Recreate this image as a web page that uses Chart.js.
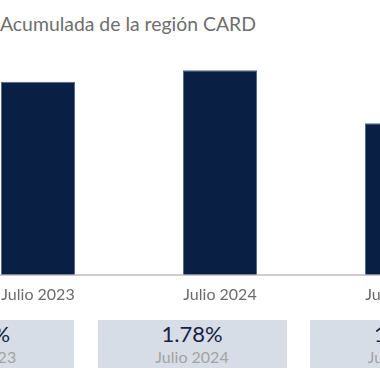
<!DOCTYPE html>
<html>
<head>
<meta charset="utf-8">
<script src="https://cdn.jsdelivr.net/npm/chart.js@4/dist/chart.umd.min.js"></script>
<style>
  html, body { margin:0; padding:0; background:#fff; width:380px; height:380px; overflow:hidden; position:relative; font-family: Lato, "Open Sans", sans-serif; }
  #title { position:absolute; left:0px; top:12px; font-size:19.4px; color:#6e6e6e; white-space:nowrap; font-family: Lato, sans-serif; }
  #wrap { position:absolute; left:-53.5px; top:0; width:546px; height:322px; }
  .card { position:absolute; top:319.5px; height:48px; width:189px; background:#d6dde6; text-align:center; }
  .card .v { position:absolute; left:0; right:0; top:1px; font-size:22px; color:#16223f; line-height:26px; }
  .card .l { position:absolute; left:0; right:0; top:27px; font-size:16px; color:#a3a3a3; line-height:20px; }
</style>
</head>
<body>
<div id="title">Acumulada de la región CARD</div>
<div id="wrap"><canvas id="c"></canvas></div>
<div id="cards"></div>
<script>
const categories = ['Julio 2023', 'Julio 2024', 'Julio 2025'];
const values = [1.68, 1.78, 1.32];
const cardLabels = ['Julio 2023', 'Julio 2024', 'Julio 2025'];

const cards = document.getElementById('cards');
values.forEach((v, i) => {
  const d = document.createElement('div');
  d.className = 'card';
  d.style.left = (-115 + i * 212.5) + 'px';
  d.innerHTML = '<div class="v">' + v.toFixed(2) + '%</div><div class="l">' + cardLabels[i] + '</div>';
  cards.appendChild(d);
});

new Chart(document.getElementById('c'), {
  type: 'bar',
  data: {
    labels: categories,
    datasets: [{
      data: values,
      backgroundColor: '#0a1f44',
      borderColor: '#56688a',
      borderWidth: 1,
      barPercentage: 0.407,
      categoryPercentage: 1
    }]
  },
  options: {
    responsive: true,
    maintainAspectRatio: false,
    animation: false,
    layout: { padding: { top: 45, bottom: 8, left: 0, right: 0 } },
    plugins: { legend: { display: false }, tooltip: { enabled: false }, title: { display: false } },
    scales: {
      x: {
        grid: { display: false, drawTicks: false },
        border: { display: true, color: '#cccccc', width: 2 },
        ticks: { color: '#6b6b6b', font: { family: 'Lato', size: 16 }, padding: 10, maxRotation: 0 }
      },
      y: { display: false, min: 0, max: 2 }
    }
  }
});
</script>
</body>
</html>
